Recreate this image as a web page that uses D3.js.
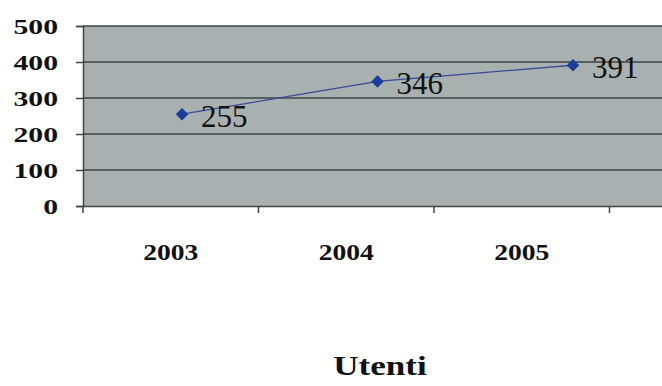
<!DOCTYPE html>
<html>
<head>
<meta charset="utf-8">
<script src="https://cdn.jsdelivr.net/npm/d3@7"></script>
<style>
  body { margin: 0; background: #fff; }
  svg { display: block; }
  text { font-family: 'Liberation Serif', 'Times New Roman', Times, serif; fill: #111; }
</style>
</head>
<body>
<svg id="chart" width="662" height="386"></svg>
<script>
const years = ['2003', '2004', '2005'];
const users = [255, 346, 391];
const yTicks = [0, 100, 200, 300, 400, 500];
const title = 'Utenti';

const svg = d3.select('#chart');
const plot = {l: 83, t: 26, b: 206, r: 662};

const yS = d3.scaleLinear().domain([0, 500]).range([plot.b, plot.t]);
// category bands along the axis (one more slot than the data, as in the picture)
const xBand = d3.scaleBand().domain([...years, '']).range([plot.l, plot.l + 4 * 175.5]);
// markers sit a bit off the band centres in the source image
const xPt = d3.scalePoint().domain(years).range([182, 573]);

svg.append('rect')
  .attr('x', plot.l).attr('y', plot.t)
  .attr('width', plot.r - plot.l).attr('height', plot.b - plot.t)
  .attr('fill', '#a8b0b0');

// gridlines
svg.append('g').selectAll('line').data(yTicks.filter(d => d > 0))
  .join('line')
  .attr('x1', plot.l).attr('x2', plot.r)
  .attr('y1', d => yS(d)).attr('y2', d => yS(d))
  .attr('stroke', '#3c4444').attr('stroke-width', 1.6);

// y axis (text is stretched wide in the source picture)
const yAxis = svg.append('g')
  .attr('transform', `translate(${plot.l},0)`)
  .call(d3.axisLeft(yS).tickValues(yTicks).tickSize(7));
yAxis.select('.domain').attr('stroke', '#444').attr('stroke-width', 1.5);
yAxis.selectAll('.tick line').attr('stroke', '#444').attr('stroke-width', 1.5);
yAxis.selectAll('.tick text')
  .attr('x', null).attr('dy', null)
  .attr('transform', 'translate(-25,7) scale(1.35,1)')
  .attr('font-weight', 'bold').attr('font-size', 22);

// x axis
const xAxis = svg.append('g')
  .attr('transform', `translate(0,${plot.b})`)
  .call(d3.axisBottom(xBand).tickSize(0).tickFormat(() => ''));
xAxis.select('.domain').attr('stroke', '#444').attr('stroke-width', 1.5);
svg.append('g').selectAll('line').data(xBand.domain())
  .join('line')
  .attr('x1', d => xBand(d)).attr('x2', d => xBand(d))
  .attr('y1', plot.b).attr('y2', plot.b + 7)
  .attr('stroke', '#444').attr('stroke-width', 1.5);

svg.append('g').selectAll('text').data(years)
  .join('text')
  .attr('transform', d => `translate(${xBand(d) + xBand.bandwidth() / 2},260) scale(1.15,1)`)
  .attr('text-anchor', 'middle')
  .attr('font-weight', 'bold').attr('font-size', 24)
  .text(d => d);

// line + markers
const pts = years.map((y, i) => [xPt(y), yS(users[i])]);
svg.append('path')
  .attr('d', d3.line()(pts))
  .attr('fill', 'none').attr('stroke', '#3a4a9a').attr('stroke-width', 1.3);

svg.append('g').selectAll('path').data(pts)
  .join('path')
  .attr('transform', d => `translate(${d[0]},${d[1]})`)
  .attr('d', d3.symbol(d3.symbolDiamond2, 100)())
  .attr('fill', '#1a3d9c');

svg.append('g').selectAll('text').data(users)
  .join('text')
  .attr('x', (d, i) => pts[i][0] + 19)
  .attr('y', (d, i) => pts[i][1] + 13)
  .attr('font-size', 31)
  .text(d => d);

svg.append('text')
  .attr('transform', 'translate(380,375) scale(1.3,1)')
  .attr('text-anchor', 'middle')
  .attr('font-weight', 'bold').attr('font-size', 27)
  .text(title);
</script>
</body>
</html>
